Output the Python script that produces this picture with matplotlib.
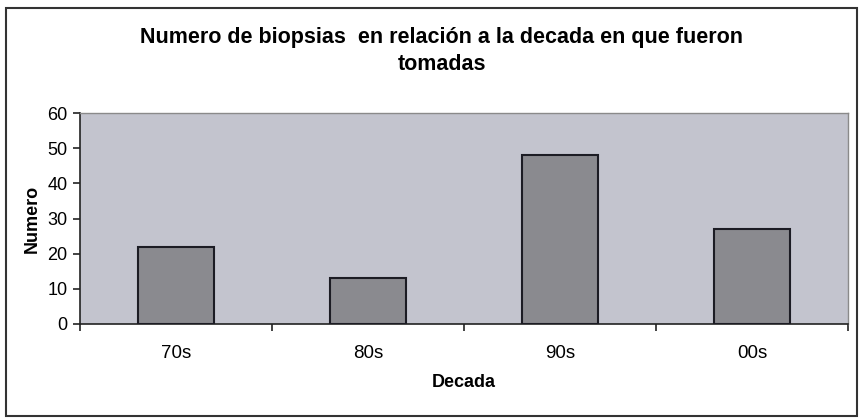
import matplotlib
matplotlib.use("Agg")
import matplotlib.pyplot as plt
from matplotlib.patches import Rectangle
import numpy as np

categories = ["70s", "80s", "90s", "00s"]
values = [22, 13, 48, 27]
yticks = [0, 10, 20, 30, 40, 50, 60]

plt.rcParams['font.family'] = ['Liberation Sans', 'DejaVu Sans']

fig = plt.figure(figsize=(8.6, 4.2), dpi=100)
ax = fig.add_axes([80/860, 1-324/420, (848-80)/860, (324-113)/420])
ax.set_facecolor('#c3c4ce')

x = np.arange(len(categories))
ax.bar(x, values, width=0.4, color='#8a8a8f', edgecolor='#1c1c24', linewidth=1.5, zorder=3)

ax.set_xlim(-0.5, len(categories) - 0.5)
ax.set_ylim(0, 60)
ax.set_yticks(yticks)
ax.set_yticklabels([str(t) for t in yticks], fontsize=13)
ax.set_xticks(x)
ax.set_xticklabels(categories, fontsize=13.5)
ax.set_xticks(np.arange(len(categories) + 1) - 0.5, minor=True)
ax.tick_params(axis='x', which='major', length=0, pad=15)
ax.tick_params(axis='x', which='minor', length=5, width=1.2, color='#222222')
ax.tick_params(axis='y', length=5, width=1.2, color='#222222', pad=4)

for s in ['left', 'bottom']:
    ax.spines[s].set_color('#222222')
    ax.spines[s].set_linewidth(1.2)
for s in ['top', 'right']:
    ax.spines[s].set_color('#8a8a8a')
    ax.spines[s].set_linewidth(1.0)

ax.set_xlabel("Decada", fontsize=13, fontweight='bold', labelpad=9)
ax.set_ylabel("Numero", fontsize=13, fontweight='bold', labelpad=5)

fig.text(442/860, 1-37/420, "Numero de biopsias  en relación a la decada en que fueron",
         ha='center', va='center', fontsize=15.5, fontweight='bold')
fig.text(442/860, 1-65/420, "tomadas", ha='center', va='center', fontsize=15.5, fontweight='bold')

fig.patches.append(Rectangle((6/860, 1-416/420), (857-6)/860, (416-8)/420,
                             transform=fig.transFigure, fill=False,
                             edgecolor='#333333', linewidth=1.5))

fig.savefig("out.png", dpi=100)
